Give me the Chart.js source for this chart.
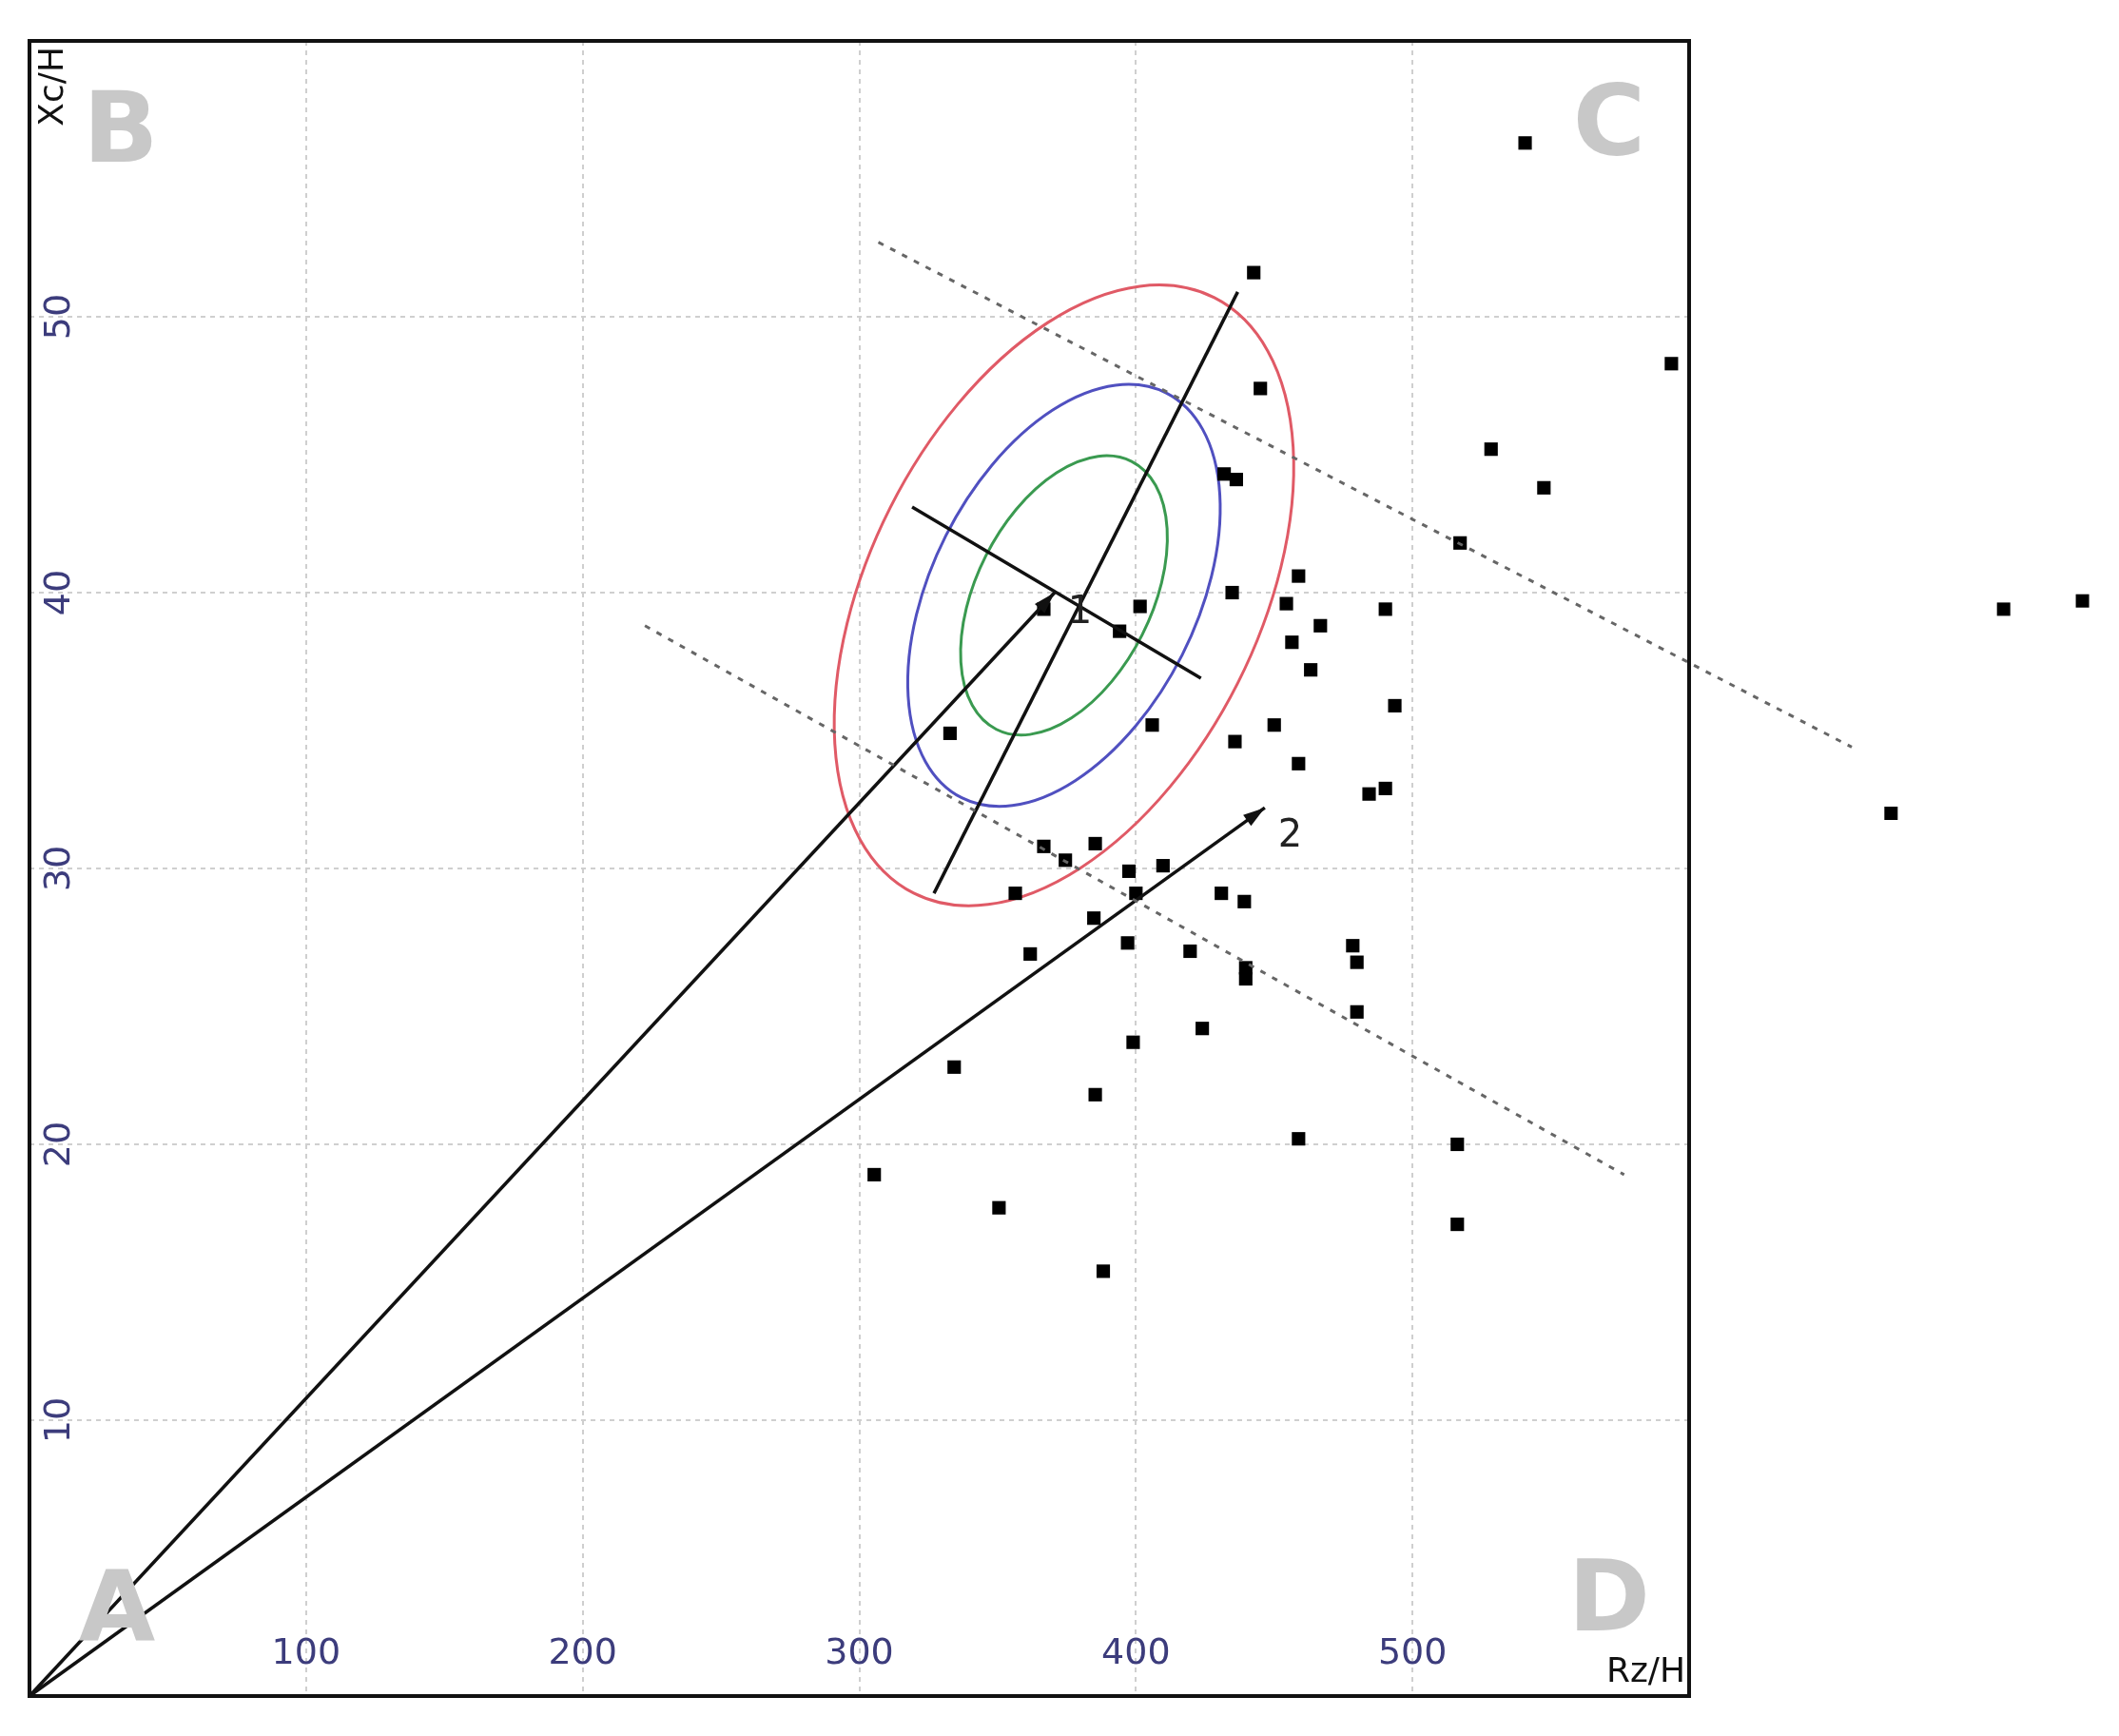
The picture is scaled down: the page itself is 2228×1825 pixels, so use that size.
<!DOCTYPE html>
<html><head><meta charset="utf-8">
<script src="https://cdn.jsdelivr.net/npm/chart.js@4.4.0/dist/chart.umd.min.js"></script>
<style>body{margin:0;background:#fff}canvas{display:block}</style>
</head><body>
<canvas id="c" width="2228" height="1825"></canvas>
<script>
// measured points (Rz/H, Xc/H)
const rz = [540.7,442.6,593.6,445,528.4,547.5,431.9,436.3,517.2,713.7,742.2,458.8,434.8,454.4,401.5,366.7,394.1,466.7,456.4,490.2,463.2,493.6,405.9,450,435.8,332.8,458.8,490.2,484.3,673,366.7,385.3,374.5,409.8,397.5,356.4,430.9,439.2,400,384.8,397,478.4,419.6,361.8,439.7,439.7,479.9,479.9,424,399,334.3,385.3,458.8,516.2,305.4,350.5,516.2,388.2];
const xc = [56.3,51.6,48.3,47.4,45.2,43.8,44.3,44.1,41.8,39.4,39.7,40.6,40,39.6,39.5,39.4,38.6,38.8,38.2,39.4,37.2,35.9,35.2,35.2,34.6,34.9,33.8,32.9,32.7,32,30.8,30.9,30.3,30.1,29.9,29.1,29.1,28.8,29.1,28.2,27.3,27.2,27,26.9,26.4,26,26.6,24.8,24.2,23.7,22.8,21.8,20.2,20,18.9,17.7,17.1,15.4];
const xTicks = [100,200,300,400,500];
const yTicks = [10,20,30,40,50];
const vector1 = [[0,0],[370.6,40]];
const vector2 = [[0,0],[446.6,32.2]];
const majorAxis = [[327,29.1],[436.8,50.9]];
const minorAxis = [[319.1,43.1],[423.5,36.9]];
const upperBound = [[306.9,52.7],[658.8,34.4]];
const lowerBound = [[222.5,38.8],[576.5,18.9]];
const ellipseCenter = [374, 39.9];
const ellipseScales = [1, 0.68, 0.45];
const ellipseColors = ['#e05a66','#5050c0','#3a9a50'];

const pts = (a) => a.map(p => ({x:p[0], y:p[1]}));
const lineDs = (a, dash, color, w) => ({type:'line', data:pts(a), borderColor:color, borderWidth:w, borderDash:dash, pointRadius:0, showLine:true, fill:false, clip:false});

const overlay = {
  id:'overlay',
  beforeDatasetsDraw(chart){
    const {ctx, scales:{x,y}} = chart;
    ctx.save();
    const m0=[x.getPixelForValue(majorAxis[0][0]),y.getPixelForValue(majorAxis[0][1])];
    const m1=[x.getPixelForValue(majorAxis[1][0]),y.getPixelForValue(majorAxis[1][1])];
    const n0=[x.getPixelForValue(minorAxis[0][0]),y.getPixelForValue(minorAxis[0][1])];
    const n1=[x.getPixelForValue(minorAxis[1][0]),y.getPixelForValue(minorAxis[1][1])];
    const cx=x.getPixelForValue(ellipseCenter[0]), cy=y.getPixelForValue(ellipseCenter[1]);
    const ra=Math.hypot(m1[0]-m0[0],m1[1]-m0[1])/2*0.99;
    const rb=Math.hypot(n1[0]-n0[0],n1[1]-n0[1])/2*1.16;
    const ang=Math.atan2(m1[1]-m0[1],m1[0]-m0[0]);
    ellipseScales.forEach((s,i)=>{
      ctx.beginPath();
      ctx.ellipse(cx,cy,ra*s,rb*s,ang,0,Math.PI*2);
      ctx.strokeStyle=ellipseColors[i]; ctx.lineWidth=3; ctx.stroke();
    });
    ctx.restore();
  },
  afterDatasetsDraw(chart){
    const {ctx, scales:{x,y}, chartArea:a} = chart;
    ctx.save();
    // points beyond the plot frame (Chart.js skips them)
    ctx.fillStyle='#000';
    rz.forEach((v,i)=>{
      if (v > x.max) {
        const px=x.getPixelForValue(v), py=y.getPixelForValue(xc[i]);
        ctx.fillRect(px-7,py-7,14,14);
      }
    });
    [[vector1,'1',14,22],[vector2,'2',14,30]].forEach(([v,lab,dx,dy])=>{
      const px=x.getPixelForValue(v[1][0]), py=y.getPixelForValue(v[1][1]);
      const t=Math.atan2(py-y.getPixelForValue(0), px-x.getPixelForValue(0));
      ctx.beginPath();
      ctx.moveTo(px,py);
      ctx.lineTo(px-24*Math.cos(t-0.3),py-24*Math.sin(t-0.3));
      ctx.lineTo(px-24*Math.cos(t+0.3),py-24*Math.sin(t+0.3));
      ctx.closePath(); ctx.fillStyle='#111'; ctx.fill();
      ctx.font='40px "DejaVu Sans"'; ctx.fillStyle='#222'; ctx.textAlign='left'; ctx.textBaseline='middle';
      ctx.fillText(lab,px+dx,py+dy);
    });
    ctx.strokeStyle='#111'; ctx.lineWidth=4; ctx.strokeRect(a.left,a.top,a.right-a.left,a.bottom-a.top);
    ctx.fillStyle='#3c3c7c'; ctx.font='38px "DejaVu Sans"';
    ctx.textAlign='center'; ctx.textBaseline='middle';
    xTicks.forEach(t=>ctx.fillText(String(t), x.getPixelForValue(t), a.bottom-44));
    yTicks.forEach(t=>{
      ctx.save(); ctx.translate(a.left+32, y.getPixelForValue(t)); ctx.rotate(-Math.PI/2);
      ctx.fillText(String(t),0,0); ctx.restore();
    });
    ctx.fillStyle='#111'; ctx.font='36px "DejaVu Sans"';
    ctx.textAlign='right'; ctx.textBaseline='bottom';
    ctx.fillText('Rz/H', a.right-4, a.bottom-6);
    ctx.save(); ctx.translate(a.left+44, a.top+6); ctx.rotate(-Math.PI/2);
    ctx.textAlign='right'; ctx.fillText('Xc/H',0,0); ctx.restore();
    ctx.fillStyle='#c8c8c8'; ctx.font='bold 104px "DejaVu Sans"'; ctx.textAlign='center'; ctx.textBaseline='middle';
    ctx.fillText('B', a.left+96, a.top+100);
    ctx.fillText('C', a.right-84, a.top+93);
    ctx.fillText('A', a.left+92, a.bottom-85);
    ctx.fillText('D', a.right-84, a.bottom-96);
    ctx.restore();
  }
};

new Chart(document.getElementById('c'), {
  type:'scatter',
  data:{datasets:[
    lineDs(upperBound,[6,8],'#666',3),
    lineDs(lowerBound,[6,8],'#666',3),
    lineDs(vector1,[],'#111',3.5),
    lineDs(vector2,[],'#111',3.5),
    lineDs(majorAxis,[],'#111',3.5),
    lineDs(minorAxis,[],'#111',3.5),
    {data:rz.map((v,i)=>({x:v,y:xc[i]})), pointStyle:'rect', pointRadius:10, backgroundColor:'#000', borderColor:'#000', borderWidth:0, clip:false}
  ]},
  options:{
    responsive:false, animation:false, devicePixelRatio:1,
    layout:{padding:{left:31,top:43,right:452,bottom:42}},
    plugins:{legend:{display:false},tooltip:{enabled:false}},
    scales:{
      x:{type:'linear',min:0,max:600,ticks:{display:false,stepSize:100},border:{display:false,dash:[5,5]},
         grid:{color:'#cfcfcf',lineWidth:2,tickLength:0}},
      y:{type:'linear',min:0,max:60,ticks:{display:false,stepSize:10},border:{display:false,dash:[5,5]},
         grid:{color:'#cfcfcf',lineWidth:2,tickLength:0}}
    }
  },
  plugins:[overlay]
});
</script>
</body></html>
